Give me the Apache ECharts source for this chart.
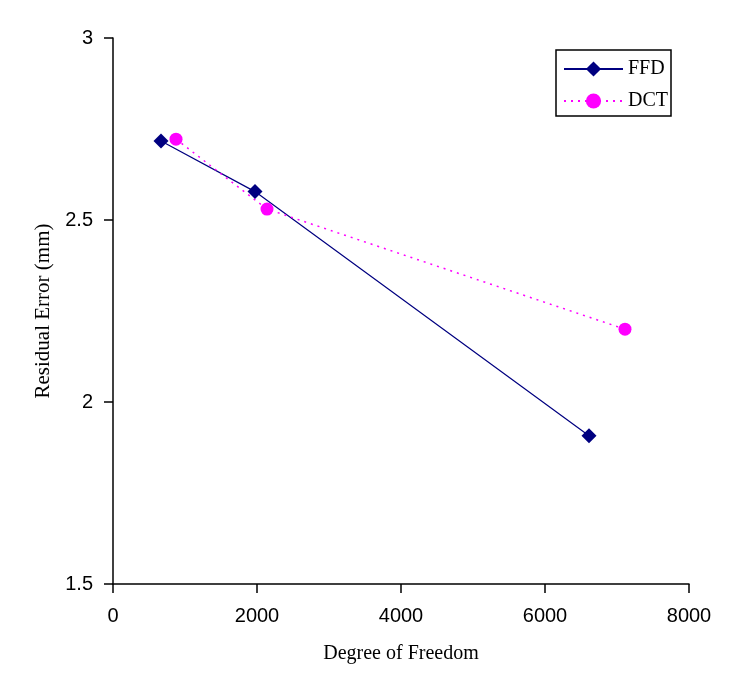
<!DOCTYPE html>
<html>
<head>
<meta charset="utf-8">
<script src="https://cdn.jsdelivr.net/npm/echarts@6/dist/echarts.min.js"></script>
<style>html,body{margin:0;padding:0;background:#fff;}#c{width:750px;height:695px;}</style>
</head>
<body>
<div id="c"></div>
<script>
const seriesNames = ['FFD', 'DCT'];
const ffdX = [667, 1972, 6611];
const ffdY = [2.717, 2.578, 1.907];
const dctX = [875, 2139, 7111];
const dctY = [2.722, 2.530, 2.200];
const xTitle = 'Degree of Freedom';
const yTitle = 'Residual Error (mm)';

const chart = echarts.init(document.getElementById('c'));
const serif = '"Liberation Serif", "Times New Roman", serif';
const sans = '"Liberation Sans", Arial, sans-serif';
chart.setOption({
  backgroundColor: '#fff',
  animation: false,
  grid: { left: 113, right: 61, top: 38, bottom: 111, containLabel: false },
  legend: {
    orient: 'vertical',
    left: 556, top: 50,
    padding: [9, 3, 5, 7],
    itemGap: 12,
    itemWidth: 59, itemHeight: 19,
    borderColor: '#000', borderWidth: 1.5,
    backgroundColor: '#fff',
    textStyle: { fontFamily: serif, fontSize: 20, color: '#000' },
    data: seriesNames
  },
  xAxis: {
    type: 'value', min: 0, max: 8000, interval: 2000,
    name: xTitle, nameLocation: 'middle', nameGap: 60,
    nameTextStyle: { fontFamily: serif, fontSize: 20, color: '#000' },
    axisLine: { show: true, lineStyle: { color: '#000', width: 1.5 } },
    axisTick: { show: true, length: 9, lineStyle: { color: '#000', width: 1.5 } },
    axisLabel: { fontFamily: sans, fontSize: 20, color: '#000', margin: 22, formatter: v => String(v) },
    splitLine: { show: false }
  },
  yAxis: {
    type: 'value', min: 1.5, max: 3, interval: 0.5,
    name: yTitle, nameLocation: 'middle', nameGap: 57, nameRotate: 90,
    nameTextStyle: { fontFamily: serif, fontSize: 21, color: '#000' },
    axisLine: { show: true, lineStyle: { color: '#000', width: 1.5 } },
    axisTick: { show: true, length: 9, lineStyle: { color: '#000', width: 1.5 } },
    axisLabel: { fontFamily: sans, fontSize: 20, color: '#000', margin: 20, formatter: v => String(v) },
    splitLine: { show: false }
  },
  series: [
    {
      name: seriesNames[0], type: 'line',
      data: ffdX.map((x, i) => [x, ffdY[i]]),
      symbol: 'diamond', symbolSize: 15,
      itemStyle: { color: '#000080' },
      lineStyle: { color: '#000080', width: 1.2, type: 'solid' }
    },
    {
      name: seriesNames[1], type: 'line',
      data: dctX.map((x, i) => [x, dctY[i]]),
      symbol: 'circle', symbolSize: 13,
      itemStyle: { color: '#FF00FF' },
      lineStyle: { color: '#FF00FF', width: 1.5, type: [2, 5] }
    }
  ]
});
</script>
</body>
</html>
